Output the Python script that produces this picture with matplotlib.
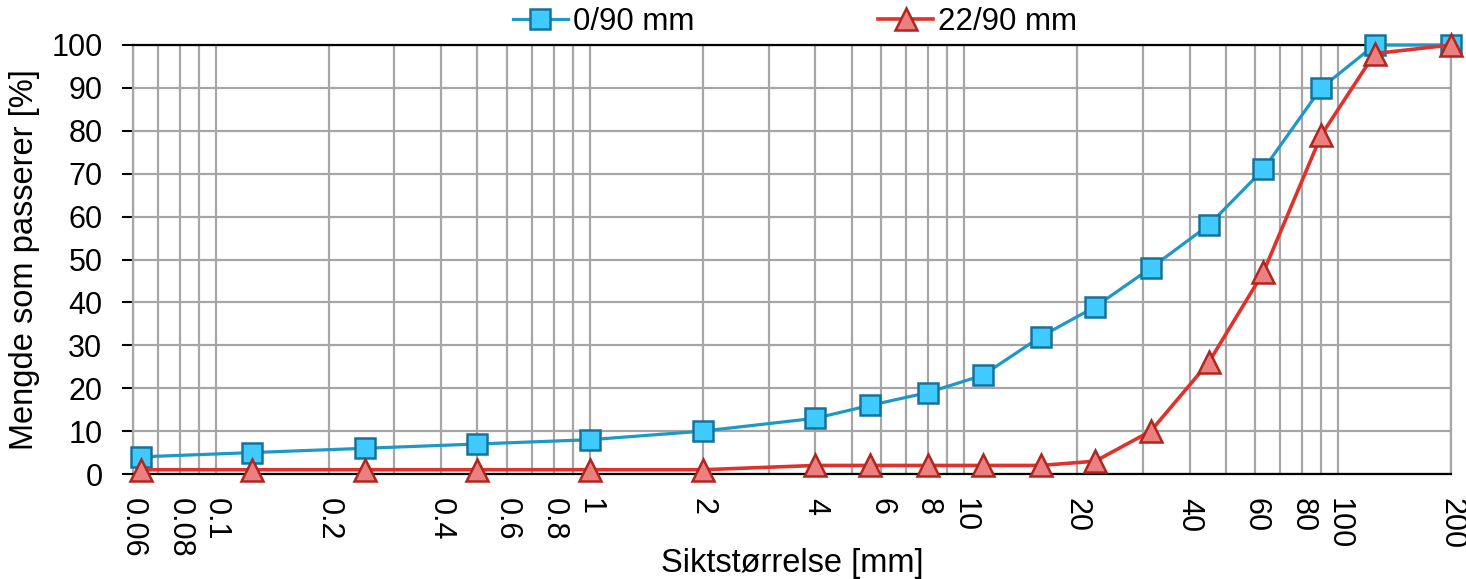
import matplotlib.pyplot as plt
import numpy as np

plt.rcParams["font.family"] = ["Liberation Sans", "DejaVu Sans"]

# sieve sizes [mm]
sieve = [0.063, 0.125, 0.25, 0.5, 1, 2, 4, 5.6, 8, 11.2, 16, 22.4, 31.5, 45, 63, 90, 125, 200]
pass_0_90 = [4, 5, 6, 7, 8, 10, 13, 16, 19, 23, 32, 39, 48, 58, 71, 90, 100, 100]
pass_22_90 = [1, 1, 1, 1, 1, 1, 2, 2, 2, 2, 2, 3, 10, 26, 47, 79, 98, 100]

grid_x = [0.06, 0.07, 0.08, 0.09, 0.1, 0.2, 0.3, 0.4, 0.5, 0.6, 0.7, 0.8, 0.9,
          1, 2, 3, 4, 5, 6, 7, 8, 9, 10, 20, 30, 40, 50, 60, 70, 80, 90, 100, 200]
labeled_x = ["0.06", "0.08", "0.1", "0.2", "0.4", "0.6", "0.8", "1", "2", "4",
             "6", "8", "10", "20", "40", "60", "80", "100", "200"]

TICK_FS = 22
LABEL_FS = 23.5
LEGEND_FS = 22.5

fig = plt.figure(figsize=(14.66, 5.79), dpi=100)
ax = fig.add_axes([0.0907, 0.1813, 0.8991, 0.741])

ax.plot(sieve, pass_0_90, color="#1E98C6", linewidth=2.3, marker="s", markersize=14,
        markerfacecolor="#3FCBFF", markeredgecolor="#15739A", markeredgewidth=1.8,
        label="0/90 mm", zorder=3, clip_on=False)
ax.plot(sieve, pass_22_90, color="#E0322A", linewidth=2.6, marker="^", markersize=16,
        markerfacecolor="#EC8080", markeredgecolor="#B0261F", markeredgewidth=1.8,
        label="22/90 mm", zorder=4, clip_on=False)

ax.set_xscale("log")
ax.set_xlim(0.06, 200)
ax.set_ylim(0, 100)

ax.set_xticks(grid_x)
ax.set_xticklabels([f"{v:g}" if f"{v:g}" in labeled_x else "" for v in grid_x],
                   rotation=-90, fontsize=TICK_FS)
ax.xaxis.set_minor_locator(plt.NullLocator())
ax.tick_params(axis="x", length=0, pad=17)

ax.set_yticks(np.arange(0, 101, 10))
ax.tick_params(axis="y", length=8, width=1.5, labelsize=TICK_FS, pad=14)

ax.grid(True, color="#A6A6A6", linewidth=1.6, zorder=0)
ax.set_axisbelow(True)

for side in ["left", "right"]:
    ax.spines[side].set_color("#A6A6A6")
    ax.spines[side].set_linewidth(1.6)
for side in ["top", "bottom"]:
    ax.spines[side].set_color("black")
    ax.spines[side].set_linewidth(1.6)

ax.set_xlabel("Siktstørrelse [mm]", fontsize=LABEL_FS)
ax.xaxis.set_label_coords(0.5, -0.173)
ax.set_ylabel("Mengde som passerer [%]", fontsize=LABEL_FS)
ax.yaxis.set_label_coords(-0.0706, 0.5)

fig.legend(loc="center", bbox_to_anchor=(0.5423, 0.962), ncol=2, frameon=False,
           fontsize=LEGEND_FS, columnspacing=5.9, handlelength=1.76, handletextpad=0.16)

fig.savefig("out.png", dpi=100)
